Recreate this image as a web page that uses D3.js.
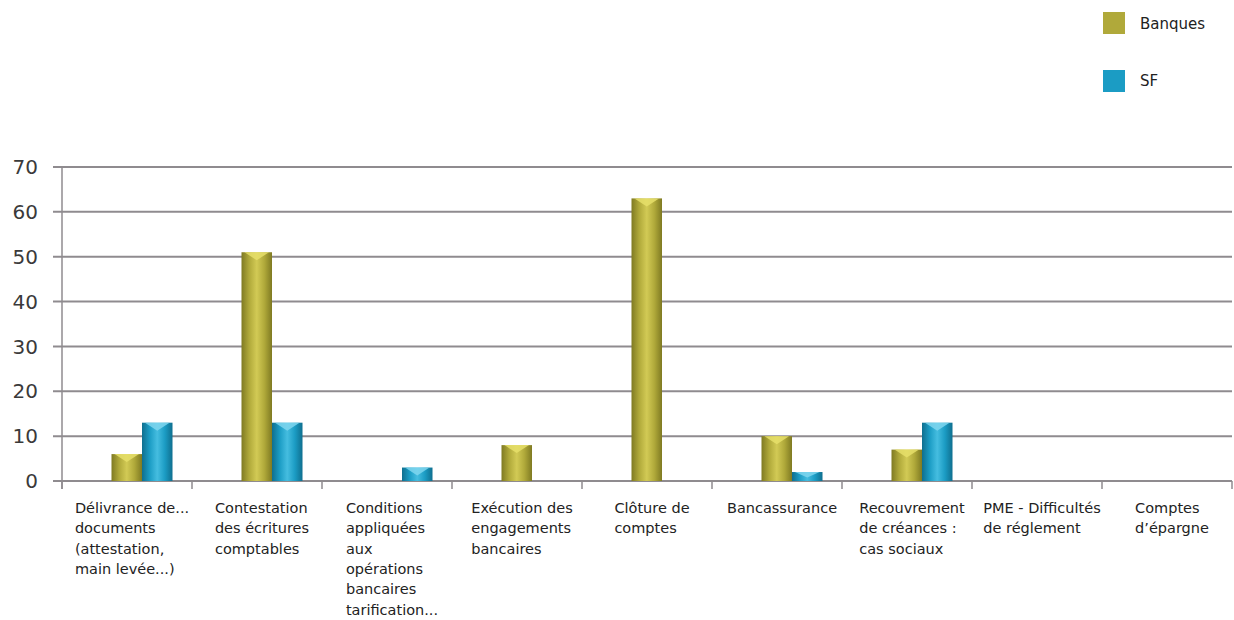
<!DOCTYPE html>
<html>
<head>
<meta charset="utf-8">
<script src="https://cdn.jsdelivr.net/npm/d3@7/dist/d3.min.js"></script>
<style>
  html, body { margin: 0; padding: 0; background: #ffffff; }
  svg { display: block; }
  text { font-family: "DejaVu Sans", sans-serif; }
</style>
</head>
<body>
<svg id="chart" width="1234" height="620"></svg>
<script>
const categories = [
  "Délivrance de...\ndocuments\n(attestation,\nmain levée...)",
  "Contestation\ndes écritures\ncomptables",
  "Conditions\nappliquées\naux\nopérations\nbancaires\ntarification...",
  "Exécution des\nengagements\nbancaires",
  "Clôture de\ncomptes",
  "Bancassurance",
  "Recouvrement\nde créances :\ncas sociaux",
  "PME - Difficultés\nde réglement",
  "Comptes\nd’épargne"
];
const seriesNames = ["Banques", "SF"];
const banques = [6, 51, 0, 8, 63, 10, 7, 0, 0];
const sf = [13, 13, 3, 0, 0, 2, 13, 0, 0];
const yTicks = [0, 10, 20, 30, 40, 50, 60, 70];

const colors = {
  Banques: { base: "#b0a93a", dark: "#7f7a22", light: "#d2ca55", cap: "#e6df6a" },
  SF: { base: "#1b9cc4", dark: "#0f6f8f", light: "#45bde0", cap: "#7fd6ef" }
};

const svg = d3.select("#chart");
const plotLeft = 62, plotRight = 1232, plotTop = 167, plotBottom = 481;

const x0 = d3.scaleBand().domain(d3.range(categories.length)).range([plotLeft, plotRight]).padding(0);
const groupW = 61, shift = 15;
const x1 = d3.scaleBand().domain(seriesNames).range([0, groupW]).padding(0);
const y = d3.scaleLinear().domain([0, 70]).range([plotBottom, plotTop]);

// gradients
const defs = svg.append("defs");
seriesNames.forEach(s => {
  const g = defs.append("linearGradient").attr("id", "grad-" + s)
    .attr("x1", "0%").attr("x2", "100%").attr("y1", "0%").attr("y2", "0%");
  g.append("stop").attr("offset", "0%").attr("stop-color", colors[s].dark);
  g.append("stop").attr("offset", "25%").attr("stop-color", colors[s].base);
  g.append("stop").attr("offset", "50%").attr("stop-color", colors[s].light);
  g.append("stop").attr("offset", "75%").attr("stop-color", colors[s].base);
  g.append("stop").attr("offset", "100%").attr("stop-color", colors[s].dark);
});

// gridlines
const gridColor = "#8f8b8f";
svg.append("g").selectAll("line").data(yTicks).join("line")
  .attr("x1", plotLeft - 9).attr("x2", plotRight)
  .attr("y1", d => y(d)).attr("y2", d => y(d))
  .attr("stroke", gridColor).attr("stroke-width", 2);

// y axis line
svg.append("line").attr("x1", plotLeft).attr("x2", plotLeft)
  .attr("y1", y(70)).attr("y2", plotBottom + 8)
  .attr("stroke", gridColor).attr("stroke-width", 1.5);

// y tick labels
svg.append("g").selectAll("text").data(yTicks).join("text")
  .attr("x", 38).attr("y", d => y(d)).attr("dy", "0.36em")
  .attr("text-anchor", "end").attr("font-size", 20).attr("fill", "#3a3a3a")
  .text(d => d);

// category ticks
const boundaries = d3.range(categories.length + 1).map(i => i < categories.length ? x0(i) : plotRight);
svg.append("g").selectAll("line").data(boundaries).join("line")
  .attr("x1", d => d).attr("x2", d => d)
  .attr("y1", plotBottom).attr("y2", plotBottom + 8)
  .attr("stroke", gridColor).attr("stroke-width", 1.5);

// bars
const seriesData = { Banques: banques, SF: sf };
const groupStart = i => x0(i) + (x0.bandwidth() - groupW) / 2 + shift;
seriesNames.forEach(s => {
  const g = svg.append("g");
  const data = seriesData[s].map((v, i) => ({ v, i })).filter(d => d.v > 0);
  g.selectAll("rect").data(data).join("rect")
    .attr("x", d => groupStart(d.i) + x1(s))
    .attr("y", d => y(d.v))
    .attr("width", x1.bandwidth())
    .attr("height", d => y(0) - y(d.v))
    .attr("fill", "url(#grad-" + s + ")");
  g.selectAll("path").data(data).join("path")
    .attr("d", d => {
      const xl = groupStart(d.i) + x1(s), w = x1.bandwidth(), yt = y(d.v);
      const h = Math.min(8, (y(0) - yt) * 0.6);
      return `M${xl + 3},${yt} L${xl + w - 3},${yt} L${xl + w / 2},${yt + h} Z`;
    })
    .attr("fill", colors[s].cap).attr("opacity", 0.85);
});

// category labels
const lblG = svg.append("g");
categories.forEach((c, i) => {
  const lines = c.split("\n");
  const t = lblG.append("text").attr("font-size", 14.5).attr("fill", "#222");
  lines.forEach((l, k) => {
    t.append("tspan").attr("x", 0).attr("y", 513 + k * 20.3).text(l);
  });
  const w = d3.max(t.selectAll("tspan").nodes(), n => n.getComputedTextLength());
  const cx = x0(i) + x0.bandwidth() / 2 + 5;
  t.selectAll("tspan").attr("x", cx - w / 2);
});

// legend
const leg = svg.append("g");
seriesNames.forEach((s, k) => {
  leg.append("rect").attr("x", 1103).attr("y", 12 + k * 58).attr("width", 22).attr("height", 22)
    .attr("fill", colors[s].base);
  leg.append("text").attr("x", 1140).attr("y", 24 + k * 57).attr("dy", "0.36em")
    .attr("font-size", 15).attr("fill", "#222").text(s);
});
</script>
</body>
</html>
